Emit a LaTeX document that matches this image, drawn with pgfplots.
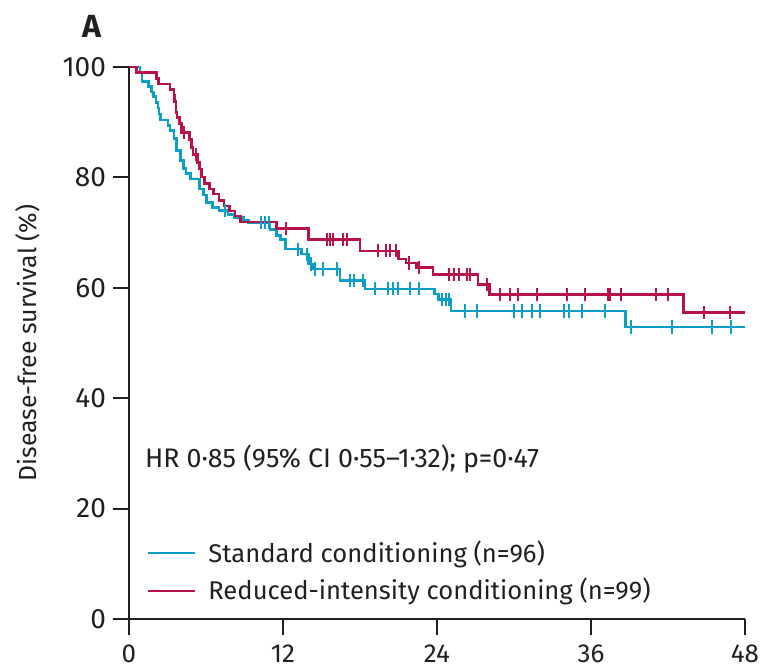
\documentclass[border=0pt]{standalone}
\usepackage{fontspec}
\setmainfont{Fira Sans}
\usepackage{pgfplots}
\usepackage{pgfplotstable}
\pgfplotsset{compat=1.18}

\definecolor{stdblue}{HTML}{0C9FC5}
\definecolor{ricred}{HTML}{B7124A}
\definecolor{axisgray}{HTML}{231F20}

% Kaplan-Meier estimates (months, % disease-free)
\pgfplotstableread{
t s
0 100
0.85 99.0
1.0 97.4
1.5 96.5
1.75 95.5
1.9 94.6
2.1 93.6
2.25 92.6
2.35 91.5
2.45 90.4
3.05 89.4
3.2 88.5
3.5 87.0
3.7 84.9
4.0 83.1
4.25 81.6
4.45 80.7
4.8 79.7
5.5 77.9
5.8 76.8
6.05 75.5
6.5 74.5
7.0 74.0
7.7 73.3
8.2 72.7
8.9 72.2
9.3 71.8
11.0 70.6
11.5 69.5
11.8 68.8
12.2 67.0
13.45 66.1
14.0 64.3
14.3 63.4
16.45 61.3
18.4 59.8
23.8 58.9
24.1 57.9
25.1 55.8
38.7 52.9
48 52.9
}\stdcurve

\pgfplotstableread{
t s
7.5 74.0
10.3 71.8
10.6 71.8
10.9 71.8
13.2 67.0
13.9 66.1
14.2 64.3
14.5 63.4
15.1 63.4
16.2 63.4
17.2 61.3
17.5 61.3
18.2 61.3
19.2 59.8
20.2 59.8
20.6 59.8
21.0 59.8
21.9 59.8
22.6 59.8
24.4 57.9
24.7 57.9
24.9 57.9
26.2 55.8
27.1 55.8
30.0 55.8
30.6 55.8
31.4 55.8
32.0 55.8
33.9 55.8
34.3 55.8
35.3 55.8
37.1 55.8
39.1 52.9
42.3 52.9
45.4 52.9
46.9 52.9
}\stdcens

\pgfplotstableread{
t s
0 100
0.6 99.0
2.15 97.9
2.3 96.9
3.2 95.9
3.5 94.8
3.55 93.8
3.65 91.8
3.75 90.8
3.95 89.8
4.1 88.1
4.7 86.9
4.85 85.4
5.0 84.2
5.35 82.7
5.5 81.5
5.65 80.1
5.9 78.9
6.25 77.9
6.6 77.0
7.0 75.8
7.4 74.8
7.85 73.9
8.25 73.0
8.7 71.9
11.5 70.7
14.0 68.7
18.0 66.7
21.0 65.2
21.6 64.5
22.4 63.7
23.7 62.4
27.2 60.6
28.1 58.8
43.2 55.5
48 55.5
}\riccurve

\pgfplotstableread{
t s
4.3 88.1
5.2 84.2
12.2 70.7
15.4 68.7
15.7 68.7
15.9 68.7
16.7 68.7
17.0 68.7
19.4 66.7
20.0 66.7
20.3 66.7
20.8 66.7
21.8 64.5
22.6 63.7
24.9 62.4
25.3 62.4
25.7 62.4
26.3 62.4
26.6 62.4
27.9 60.6
28.9 58.8
29.7 58.8
30.3 58.8
31.8 58.8
34.1 58.8
35.5 58.8
37.3 58.8
37.5 58.8
38.3 58.8
41.1 58.8
42.0 58.8
44.8 55.5
46.8 55.5
}\riccens

\begin{document}
\begin{tikzpicture}
\path[use as bounding box] (-64.5pt,-24pt) rectangle (316.5pt,309.5pt);
\begin{axis}[
  at={(0,0)}, anchor=south west,
  scale only axis, width=308pt, height=276pt,
  xmin=0, xmax=48, ymin=0, ymax=100,
  clip=false,
  axis x line*=bottom, axis y line*=left,
  axis line style={-, line width=1pt, color=axisgray},
  xtick={0,12,24,36,48}, ytick={0,20,40,60,80,100},
  tick align=outside, major tick length=8pt,
  tick style={line width=1pt, color=axisgray},
  tick label style={color=axisgray,
    /pgf/number format/assume math mode=true},
  yticklabel style={font=\fontsize{14}{16}\selectfont},
  xticklabel style={font=\fontsize{13}{15}\selectfont, yshift=-1.5pt},
  ylabel={Disease-free survival (\%)},
  ylabel style={font=\fontsize{12.4}{14}\selectfont, color=axisgray,
    at={(axis description cs:-0.164,0.5)}, anchor=center},
  legend style={draw=none, fill=none, at={(axis cs:1.4,15.0)}, anchor=north west,
    font=\fontsize{12.8}{15}\selectfont, text=axisgray, row sep=2.5pt,
    column sep=4pt, inner sep=0pt},
  legend cell align=left,
  legend image code/.code={\draw[#1, line width=1pt] (0pt,0pt) -- (23.5pt,0pt);},
]
\addplot[const plot, stdblue, line width=1.3pt] table[x=t, y=s] {\stdcurve};
\addlegendentry{Standard conditioning (n=96)}
\addplot[const plot, ricred, line width=1.3pt] table[x=t, y=s] {\riccurve};
\addlegendentry{Reduced-intensity conditioning (n=99)}
\addplot[forget plot, only marks, mark=|, mark size=3.3pt, stdblue,
  mark options={line width=1pt}] table[x=t, y=s] {\stdcens};
\addplot[forget plot, only marks, mark=|, mark size=3.3pt, ricred,
  mark options={line width=1pt}] table[x=t, y=s] {\riccens};
\node[anchor=west, font=\fontsize{13.4}{16}\selectfont, text=axisgray]
  at (axis cs:0.7,28.9) {HR 0·85 (95\% CI 0·55–1·32); p=0·47};
\end{axis}
\node[font=\fontsize{16}{18}\selectfont\bfseries, text=axisgray] at (-18.5pt,296.5pt) {A};
\end{tikzpicture}
\end{document}
